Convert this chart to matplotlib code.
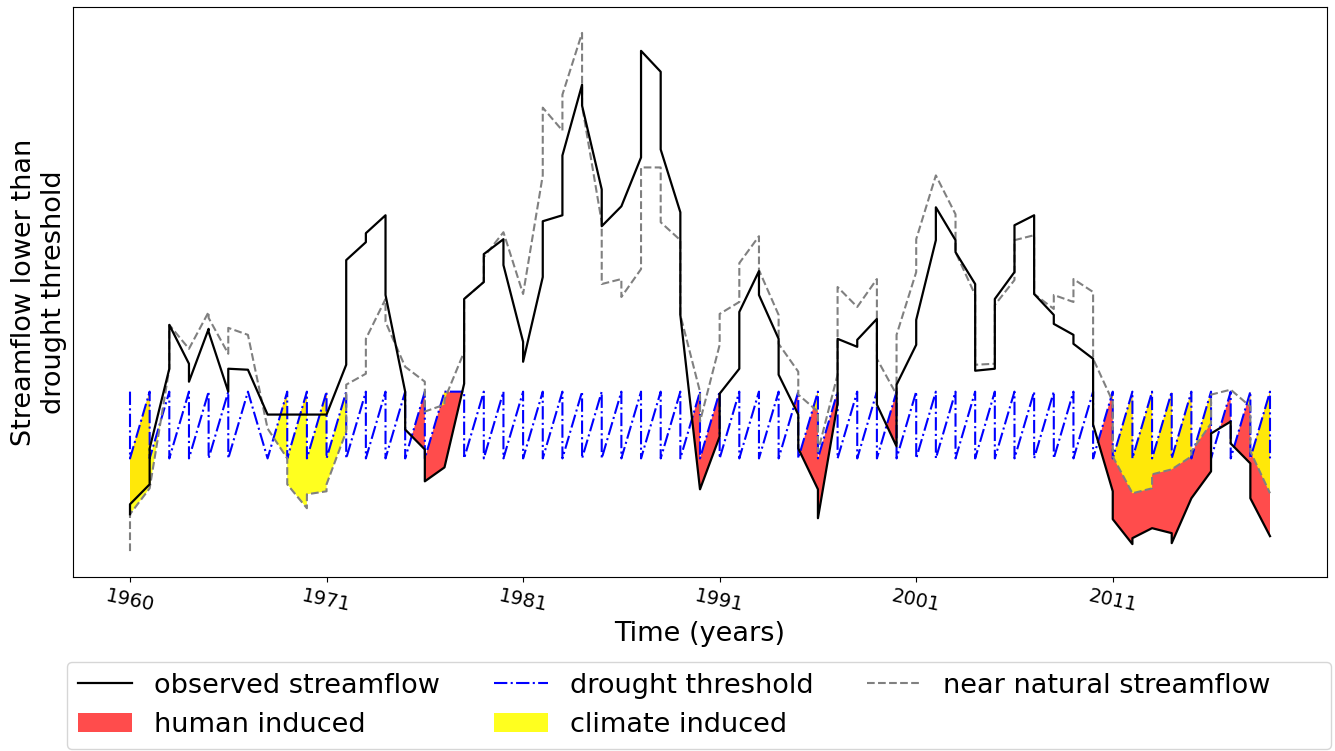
import matplotlib
matplotlib.use("Agg")
import matplotlib.pyplot as plt
from matplotlib.lines import Line2D
import numpy as np

years = np.arange(1960, 2019)

# values at the start and at the end of each year (same x for both)
obs_first = [8.7, 11.7, 23.3, 23.8, 27.3, 21.0, 23.2, 18.7, 18.7, 18.7,
             18.7, 23.7, 36.0, 38.7, 21.0, 15.2, 13.4, 21.8, 32.0, 36.3,
             26.0, 32.5, 38.7, 51.8, 41.3, 39.6, 44.5, 53.1, 39.0, 11.2,
             16.5, 23.3, 33.1, 26.3, 18.7, 11.2, 19.8, 25.5, 28.3, 15.5,
             25.7, 36.2, 36.2, 31.8, 23.3, 33.0, 38.7, 28.7, 26.7, 24.3,
             11.0, 5.7, 7.3, 6.8, 10.3, 13.0, 18.0, 13.8, 6.5]
obs_last = [9.7, 15.3, 27.7, 22.0, 27.0, 23.3, 23.2, 18.7, 18.7, 18.7,
            18.7, 34.2, 36.9, 30.7, 17.2, 12.0, 13.4, 30.3, 34.8, 33.7,
            24.0, 38.1, 44.7, 49.7, 37.6, 39.6, 55.2, 45.3, 28.7, 11.2,
            20.8, 29.0, 30.7, 22.7, 15.3, 8.3, 26.3, 26.2, 19.7, 21.7,
            28.2, 39.5, 35.0, 23.1, 30.3, 37.7, 30.8, 27.8, 25.8, 17.7,
            8.2, 6.3, 7.3, 5.8, 10.3, 16.8, 15.8, 10.3, 6.5]

nat_first = [5.0, 11.3, 23.3, 25.3, 29.0, 24.8, 26.7, 17.3, 14.3, 9.3,
             11.0, 17.0, 22.8, 30.3, 23.5, 22.0, 19.7, 25.0, 32.0, 37.0,
             30.8, 42.7, 47.2, 57.0, 38.0, 32.3, 33.3, 43.5, 36.2, 21.0,
             25.7, 30.0, 36.6, 28.7, 23.0, 19.0, 22.7, 29.5, 32.3, 20.7,
             33.0, 42.7, 38.8, 30.7, 23.8, 32.2, 36.7, 29.3, 30.0, 31.0,
             20.0, 10.8, 11.3, 13.2, 14.5, 17.8, 21.2, 19.5, 10.8]
nat_last = [8.7, 11.3, 27.7, 25.3, 28.4, 27.4, 26.7, 17.3, 11.7, 10.7,
            11.7, 21.7, 26.3, 28.0, 23.5, 19.0, 20.2, 30.3, 34.5, 37.0,
            30.8, 49.5, 50.8, 49.7, 31.8, 30.5, 43.5, 38.0, 28.7, 18.0,
            28.8, 33.9, 33.2, 25.8, 20.7, 15.0, 31.5, 29.5, 24.3, 26.7,
            36.3, 42.7, 35.0, 23.7, 29.7, 36.2, 30.8, 30.7, 32.3, 24.3,
            14.5, 10.8, 12.7, 13.2, 15.0, 20.7, 21.2, 15.0, 10.8]

thr_first = [21.0, 21.0, 21.0, 21.0, 21.0, 21.0, 21.0, 14.3, 21.0, 21.0,
             21.0, 21.0, 21.0, 21.0, 21.0, 21.0, 21.0, 21.0, 21.0, 21.0,
             21.0, 21.0, 21.0, 21.0, 21.0, 21.0, 21.0, 21.0, 21.0, 21.0,
             21.0, 21.0, 21.0, 21.0, 21.0, 21.0, 21.0, 21.0, 21.0, 21.0,
             21.0, 21.0, 21.0, 21.0, 21.0, 21.0, 21.0, 21.0, 21.0, 21.0,
             21.0, 21.0, 21.0, 21.0, 21.0, 21.0, 21.0, 21.0, 21.0]
thr_last = [14.3, 14.3, 14.3, 14.3, 14.3, 14.3, 21.0, 14.3, 14.3, 14.3,
            14.3, 14.3, 14.3, 14.3, 14.3, 14.3, 21.0, 14.3, 14.3, 14.3,
            14.3, 14.3, 14.3, 14.3, 14.3, 14.3, 14.3, 14.3, 14.3, 14.3,
            14.3, 14.3, 14.3, 14.3, 14.3, 14.3, 14.3, 14.3, 14.3, 14.3,
            14.3, 14.3, 14.3, 14.3, 14.3, 14.3, 14.3, 14.3, 14.3, 14.3,
            14.3, 14.3, 14.3, 14.3, 14.3, 14.3, 14.3, 14.3, 14.3]

tick_years = [1960, 1970, 1980, 1990, 2000, 2010]
tick_labels = ["1960", "1971", "1981", "1991", "2001", "2011"]

x = np.repeat(years, 2)
obs = np.column_stack([obs_first, obs_last]).ravel()
nat = np.column_stack([nat_first, nat_last]).ravel()
thr = np.column_stack([thr_first, thr_last]).ravel()

fig = plt.figure(figsize=(13.35, 7.51), dpi=100)
ax = fig.add_axes([73/1335, 1 - 577/751, 1254/1335, 570/751])

ax.plot(x, obs, color="black", lw=1.6, label="observed streamflow", zorder=4)
ax.plot(x, thr, color="blue", ls="-.", lw=1.5, label="drought threshold", zorder=3)
ax.plot(x, nat, color="grey", ls="--", lw=1.5, label="near natural streamflow", zorder=3)
ax.fill_between(x, obs, thr, where=obs < thr, interpolate=True, color="red",
                alpha=0.7, lw=0, label="human induced", zorder=1)
ax.fill_between(x, nat, thr, where=nat < thr, interpolate=True, color="yellow",
                alpha=0.88, lw=0, label="climate induced", zorder=2)

ax.set_yticks([])
ax.set_xticks(tick_years)
ax.set_xticklabels(tick_labels, rotation=-12, fontsize=14)
ax.set_xlabel("Time (years)", fontsize=19.5)
ax.set_ylabel("Streamflow lower than\ndrought threshold", fontsize=19.5)

h, l = ax.get_legend_handles_labels()
order = [0, 3, 1, 4, 2]
handles = [h[i] for i in order] + [Line2D([], [], color="none")]
labels = [l[i] for i in order] + ["n" * 21 + "ii"]  # blank slot, widens the box
leg = ax.legend(handles, labels, ncol=3, loc="upper left",
                bbox_to_anchor=(-6/1254, -0.149), borderaxespad=0, fontsize=19.5)
leg.get_texts()[-1].set_color("none")

plt.savefig("out.png", dpi=100)
